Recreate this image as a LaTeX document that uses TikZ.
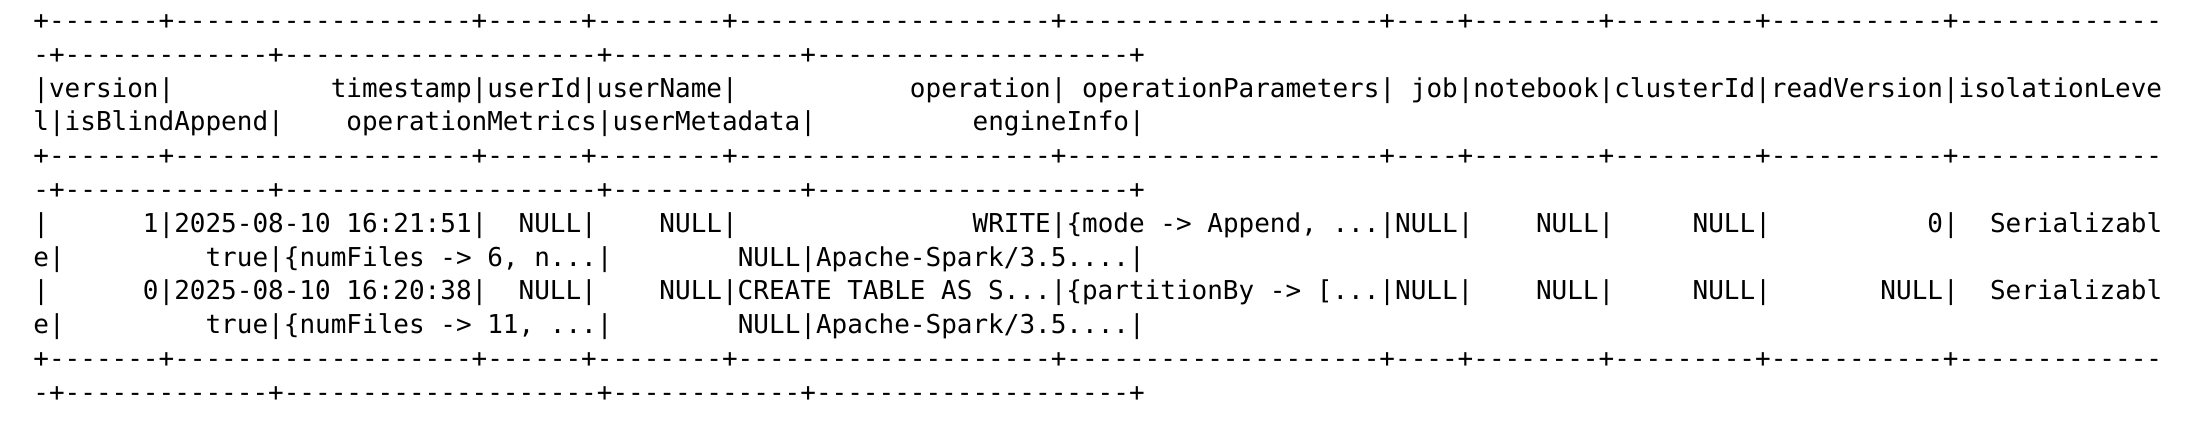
\documentclass[tikz,border=0pt]{standalone}
\usepackage{fontspec}
\setmonofont{DejaVu Sans Mono}
\newlength\cw
\newcommand\pad[1]{\hspace*{#1\cw}}
\newcommand\seg[1]{+\foreach \n in {1,...,#1}{-}}
\newcommand\topline{\seg{7}\seg{19}\seg{6}\seg{8}\seg{20}\seg{20}\seg{4}\seg{8}\seg{9}\seg{11}\seg{13}}
\newcommand\subline{-\seg{13}\seg{20}\seg{12}\seg{20}+}
\frenchspacing

\begin{document}
\settowidth\cw{\ttfamily\fontsize{13}{16.9}\selectfont 0}
\begin{tikzpicture}[x=1pt, y=1pt,
    row/.style={anchor=base west, inner sep=0pt, font=\ttfamily\fontsize{13}{16.9}\selectfont}]
    \def\X{16.5} \def\Y{203.3} \def\dy{16.9}
    \useasboundingbox (0, 0) rectangle (1097, 218);

    % header
    \node[row] (top1) at (\X, \Y) {\topline};
    \node[row] (top2) at (\X, \Y - 1*\dy) {\subline};
    \node[row] (head1) at (\X, \Y - 2*\dy) {|version|\pad{10}timestamp|userId|userName|\pad{11}operation|\pad{1}operationParameters|\pad{1}job|notebook|clusterId|readVersion|isolationLeve};
    \node[row] (head2) at (\X, \Y - 3*\dy) {l|isBlindAppend|\pad{4}operationMetrics|userMetadata|\pad{10}engineInfo|};
    \node[row] (mid1) at (\X, \Y - 4*\dy) {\topline};
    \node[row] (mid2) at (\X, \Y - 5*\dy) {\subline};

    % rows
    \node[row] (rowa1) at (\X, \Y - 6*\dy) {|\pad{6}1|2025-08-10 16:21:51|\pad{2}NULL|\pad{4}NULL|\pad{15}WRITE|\{mode -> Append, ...|NULL|\pad{4}NULL|\pad{5}NULL|\pad{10}0|\pad{2}Serializabl};
    \node[row] (rowa2) at (\X, \Y - 7*\dy) {e|\pad{9}true|\{numFiles -> 6, n...|\pad{8}NULL|Apache-Spark/3.5....|};
    \node[row] (rowb1) at (\X, \Y - 8*\dy) {|\pad{6}0|2025-08-10 16:20:38|\pad{2}NULL|\pad{4}NULL|CREATE TABLE AS S...|\{partitionBy -> [...|NULL|\pad{4}NULL|\pad{5}NULL|\pad{7}NULL|\pad{2}Serializabl};
    \node[row] (rowb2) at (\X, \Y - 9*\dy) {e|\pad{9}true|\{numFiles -> 11, ...|\pad{8}NULL|Apache-Spark/3.5....|};

    \node[row] (bot1) at (\X, \Y - 10*\dy) {\topline};
    \node[row] (bot2) at (\X, \Y - 11*\dy) {\subline};
\end{tikzpicture}
\end{document}
